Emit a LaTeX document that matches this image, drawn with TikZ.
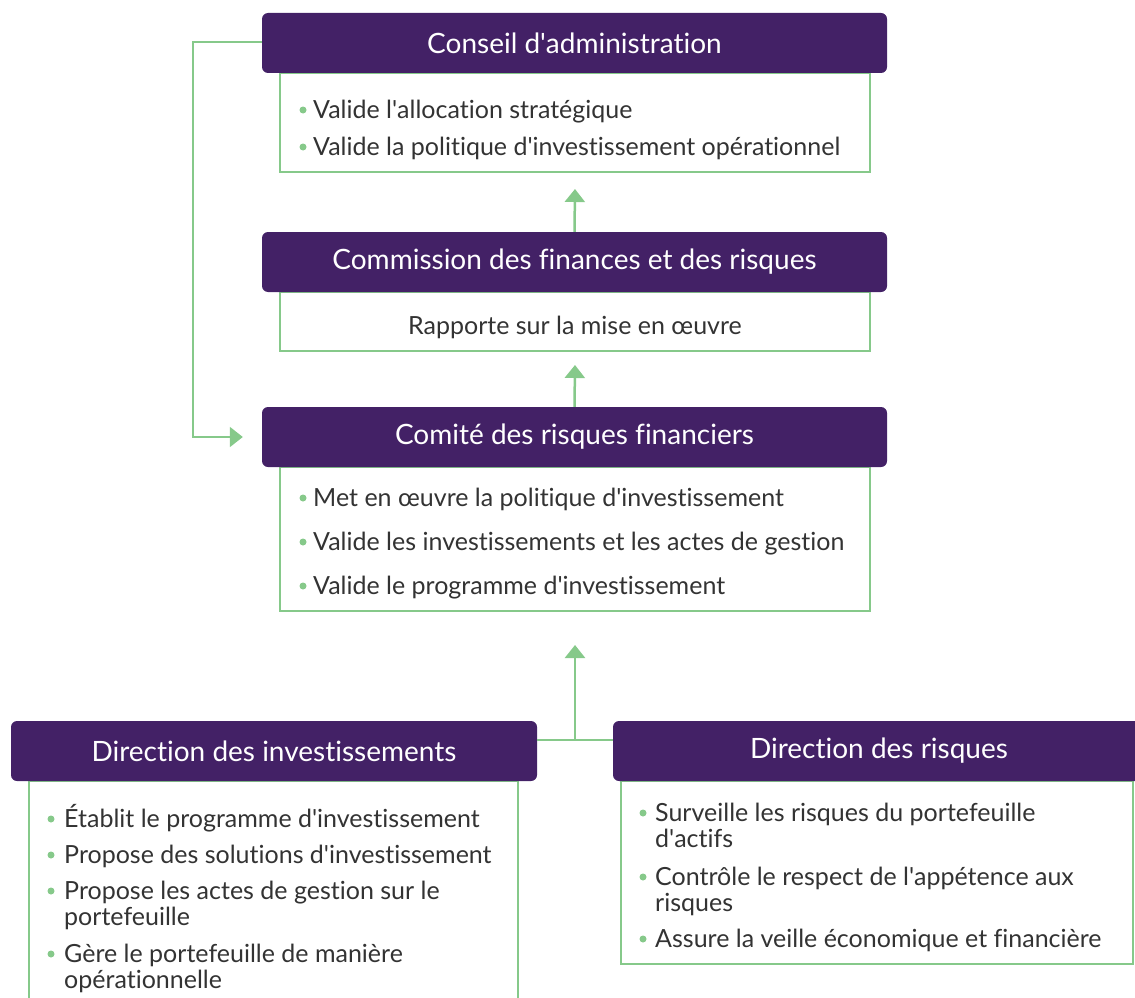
\documentclass[tikz,border=0pt]{standalone}
\usepackage{fontspec}
\setmainfont{Lato}[Ligatures=NoCommon]
\usetikzlibrary{arrows.meta}
\usetikzlibrary{positioning}

\definecolor{violetfonce}{HTML}{432166}
\definecolor{vertclair}{HTML}{86C98A}
\definecolor{grisfonce}{HTML}{333333}
\newcommand{\apos}{\textquotesingle}

\begin{document}
\begin{tikzpicture}[x=1pt, y=-1pt, entete/.style={rectangle, rounded corners=6pt, fill=violetfonce, text=white, minimum width=625pt, minimum height=60pt, font=\fontsize{28}{32}\selectfont}, corps/.style={rectangle, draw=vertclair, line width=2pt, fill=white, anchor=north, inner sep=0pt}, ligne/.style={anchor=base west, inner sep=0pt, text=grisfonce, align=left, font=\fontsize{25}{26}\selectfont}, puce/.style={circle, fill=vertclair, inner sep=0pt, minimum size=7pt}, fleche/.style={draw=vertclair, line width=2.5pt, -{Triangle[width=20pt,length=13pt]}}, liaison/.style={draw=vertclair, line width=2pt}]
\useasboundingbox (0,0) rectangle (1135,998);
\clip (0,0) rectangle (1135,998);
% cadres
\node [corps, minimum width=590pt, minimum height=99pt] (conseilcorps) at (575,72) {};
\node [corps, minimum width=590pt, minimum height=59pt] (commissioncorps) at (575,291) {};
\node [corps, minimum width=590pt, minimum height=144pt] (comitecorps) at (575,466) {};
\node [corps, minimum width=489pt, minimum height=240pt] (invcorps) at (273.5,780) {};
\node [corps, minimum width=512pt, minimum height=183pt] (risqcorps) at (877,780) {};
% entetes
\node [entete] (conseil) at (574.5,43) {Conseil d\apos administration};
\node [entete] (commission) at (574.5,262) {Commission des finances et des risques};
\node [entete] (comite) at (574.5,437) {Comité des risques financiers};
\node [entete, minimum width=526pt] (dirinv) at (274,751) {Direction des investissements};
\node [entete, minimum width=532pt] (dirrisq) at (879,751) {Direction des risques};
% textes
\node [puce] (p1) at (303,110) {};
\node [ligne] (t1) at (313,118) {Valide l\apos allocation stratégique};
\node [puce] (p2) at (303,147) {};
\node [ligne] (t2) at (313,155) {Valide la politique d\apos investissement opérationnel};
\node [ligne, anchor=base] (t3) at (575,334) {Rapporte sur la mise en œuvre};
\node [puce] (p4) at (303,498) {};
\node [ligne] (t4) at (313,506) {Met en œuvre la politique d\apos investissement};
\node [puce] (p5) at (303,542) {};
\node [ligne] (t5) at (313,550) {Valide les investissements et les actes de gestion};
\node [puce] (p6) at (303,586) {};
\node [ligne] (t6) at (313,594) {Valide le programme d\apos investissement};
\node [puce] (p7) at (51,819) {};
\node [ligne] (t7) at (64,827) {Établit le programme d\apos investissement};
\node [puce] (p8) at (51,855) {};
\node [ligne] (t8) at (64,863) {Propose des solutions d\apos investissement};
\node [puce] (p9) at (51,891) {};
\node [ligne] (t9) at (64,925) {Propose les actes de gestion sur le\\portefeuille};
\node [puce] (p10) at (51,954) {};
\node [ligne] (t10) at (64,988) {Gère le portefeuille de manière\\opérationnelle};
\node [puce] (p11) at (643,813) {};
\node [ligne] (t11) at (655,847) {Surveille les risques du portefeuille\\d\apos actifs};
\node [puce] (p12) at (643,877) {};
\node [ligne] (t12) at (655,911) {Contrôle le respect de l\apos appétence aux\\risques};
\node [puce] (p13) at (643,939) {};
\node [ligne] (t13) at (655,947) {Assure la veille économique et financière};
% liaisons
\coordinate [below=16pt of conseilcorps] (c1);
\coordinate [below=13pt of commissioncorps] (c2);
\coordinate [below=33pt of comitecorps] (c3);
\coordinate [left=19pt of comite] (c4);
\coordinate (jonction) at (575,740);
\draw [fleche] (commission.north) -- (c1);
\draw [fleche] (comite.north) -- (c2);
\draw [liaison] ([yshift=11pt]dirinv.east) -- ([yshift=11pt]dirrisq.west);
\draw [fleche] (jonction) -- (c3);
\draw [liaison, -{Triangle[width=20pt,length=13pt]}] ([yshift=1pt]conseil.west) -- ++(-69,0) |- (c4);
\end{tikzpicture}
\end{document}
